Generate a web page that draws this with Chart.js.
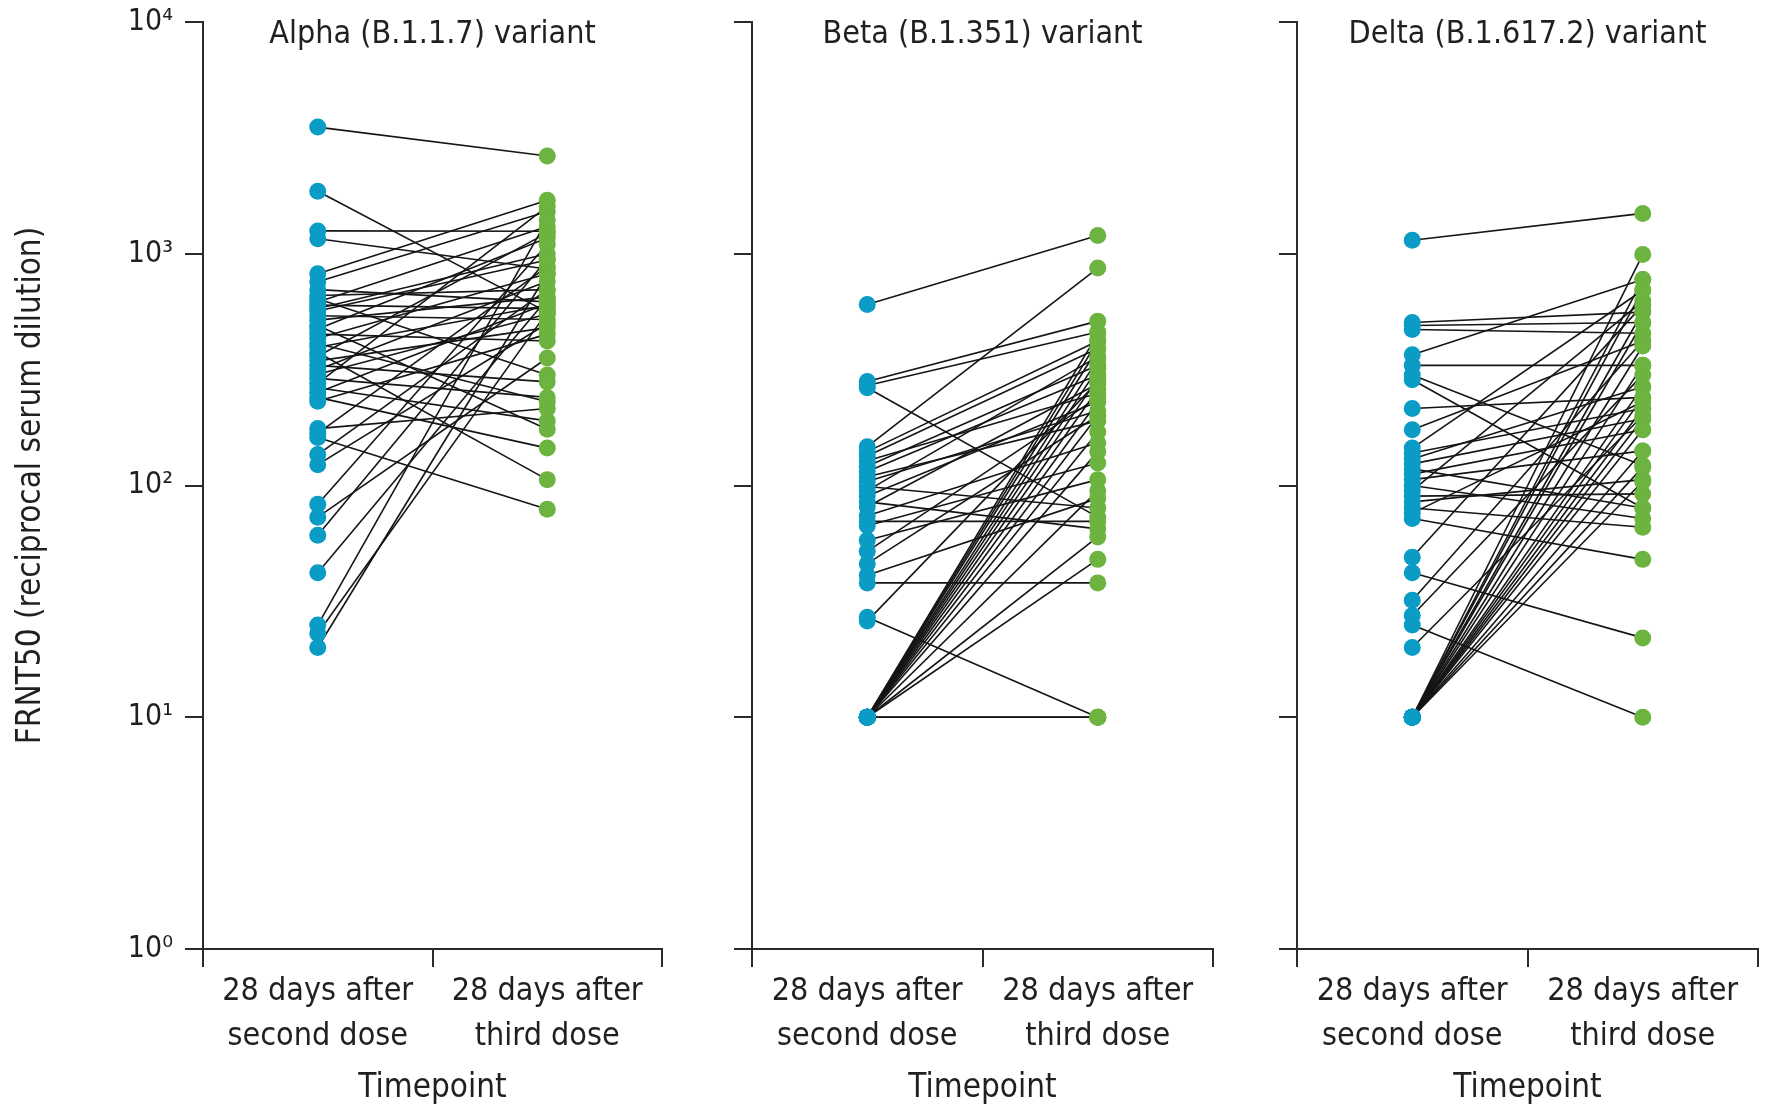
<!DOCTYPE html>
<html>
<head>
<meta charset="utf-8">
<script src="https://cdn.jsdelivr.net/npm/chart.js@4.4.0/dist/chart.umd.min.js"></script>
<style>
  html, body { margin: 0; padding: 0; background: #fff; }
  #wrap { position: relative; width: 1769px; height: 1110px; }
  .panel { position: absolute; top: 0; height: 1110px; }
</style>
</head>
<body>
<div id="wrap">
  <div class="panel" style="left:0;width:700px"><canvas id="alpha"></canvas></div>
  <div class="panel" style="left:700px;width:540px"><canvas id="beta"></canvas></div>
  <div class="panel" style="left:1240px;width:529px"><canvas id="delta"></canvas></div>
</div>
<script>
// Paired FRNT50 titres, 28 days after 2nd vs 3rd dose, per variant

const FONT = "'Liberation Sans Narrow', 'DejaVu Sans Condensed', sans-serif";
Chart.defaults.font.family = FONT;
Chart.defaults.color = '#231f20';

const TEXT = '#231f20';
const AXIS = '#2b2b2b';
const BLUE = '#0a9cc5';
const GREEN = '#6cb33f';

const timepoints = [['28 days after', 'second dose'], ['28 days after', 'third dose']];
const yTickValues = [1, 10, 100, 1000, 10000];
const yTickLabels = ['10⁰', '10¹', '10²', '10³', '10⁴'];
const yTitle = 'FRNT50 (reciprocal serum dilution)';
const xTitle = 'Timepoint';
const panelTitles = ['Alpha (B.1.1.7) variant', 'Beta (B.1.351) variant', 'Delta (B.1.617.2) variant'];

// same index = same participant
const alphaSecond = [3520, 1860, 1255, 1160, 820, 757, 700, 660, 640, 619, 600, 580, 566, 540, 517,
  490, 473, 450, 432, 410, 395, 375, 361, 345, 330, 316, 302, 290, 276, 264, 252, 240, 231,
  176, 168, 161, 136, 123, 83, 73, 61, 42, 25, 23, 20];
const alphaThird = [2640, 560, 1250, 860, 1700, 1520, 620, 700, 300, 1310, 580, 1000, 940, 520, 650,
  175, 1170, 420, 820, 230, 600, 106, 1230, 480, 280, 760, 550, 240, 1600, 190, 610, 145, 450,
  215, 880, 79, 700, 500, 1100, 355, 950, 640, 1400, 560, 820];

const betaSecond = [604, 281, 270, 264, 147, 140, 134, 128, 121, 115, 109, 104, 99, 95, 90, 85, 81,
  74, 70, 67, 58, 52, 46, 41, 38, 27, 26,
  10, 10, 10, 10, 10, 10, 10, 10, 10, 10, 10, 10, 10, 10, 10, 10, 10];
const betaThird = [1200, 512, 460, 73, 867, 420, 390, 250, 330, 300, 190, 210, 80, 360, 230, 65, 275,
  153, 70, 125, 106, 240, 200, 88, 38, 10, 280,
  10, 10, 10, 450, 420, 390, 350, 320, 290, 260, 230, 200, 170, 140, 95, 60, 48];

const deltaSecond = [1143, 505, 490, 471, 367, 330, 300, 286, 215, 174, 145, 138, 130, 124, 118, 112,
  106, 100, 95, 90, 85, 80, 76, 72, 49, 42, 32, 27.5, 25, 20,
  10, 10, 10, 10, 10, 10, 10, 10, 10, 10, 10, 10, 10, 10, 10];
const deltaThird = [1493, 560, 505, 454, 775, 330, 122, 80, 240, 420, 696, 215, 267, 194, 80, 174,
  141, 72, 625, 92, 106, 66, 230, 48, 600, 22, 420, 300, 10, 200,
  993, 775, 700, 562, 505, 400, 330, 267, 240, 215, 194, 174, 141, 104, 120];

// draws the variant name inside the top of the plot area
const panelTitle = {
  id: 'panelTitle',
  afterDraw(chart, args, opts) {
    const { ctx, chartArea } = chart;
    ctx.save();
    ctx.font = `${opts.size}px ${FONT}`;
    ctx.fillStyle = TEXT;
    ctx.textAlign = 'center';
    ctx.textBaseline = 'middle';
    ctx.fillText(opts.text, (chartArea.left + chartArea.right) / 2, chartArea.top + opts.offset);
    ctx.restore();
  }
};

function makePanel(canvasId, title, second, third, axisWidth, rightPad, showLabels) {
  const pairs = second.map((s, i) => ({
    data: [s, third[i]],
    borderColor: '#151515',
    borderWidth: 1.6,
    pointRadius: 0,
    tension: 0,
    order: 1,
  }));
  // x given as the label itself (same array reference) so the category scale finds it
  const dots = [
    { data: second.map(v => ({ x: timepoints[0], y: v })), showLine: false, pointRadius: 8.5,
      pointBackgroundColor: BLUE, pointBorderWidth: 0, order: 0 },
    { data: third.map(v => ({ x: timepoints[1], y: v })), showLine: false, pointRadius: 8.5,
      pointBackgroundColor: GREEN, pointBorderWidth: 0, order: 0 },
  ];

  return new Chart(document.getElementById(canvasId), {
    type: 'line',
    data: { labels: timepoints, datasets: [...pairs, ...dots] },
    plugins: [panelTitle],
    options: {
      responsive: true,
      maintainAspectRatio: false,
      animation: false,
      events: [],
      layout: { padding: { top: 22, right: rightPad, left: 0, bottom: 0 } },
      plugins: {
        legend: { display: false },
        tooltip: { enabled: false },
        panelTitle: { text: title, size: 32, offset: 13 },
      },
      scales: {
        x: {
          type: 'category',
          offset: true,
          grid: { offset: true, drawOnChartArea: false, tickLength: 18, color: AXIS, lineWidth: 2 },
          border: { color: AXIS, width: 2 },
          ticks: { font: { size: 32, lineHeight: 1.42 }, padding: 2, color: TEXT, maxRotation: 0, autoSkip: false },
          title: { display: true, text: xTitle, font: { size: 33 }, padding: { top: 0, bottom: 2 }, color: TEXT },
          afterFit: (s) => { s.height = 161; },
        },
        y: {
          type: 'logarithmic',
          min: 1,
          max: 10000,
          afterBuildTicks: (s) => { s.ticks = yTickValues.map(v => ({ value: v })); },
          grid: { drawOnChartArea: false, tickLength: 18, color: AXIS, lineWidth: 2 },
          border: { color: AXIS, width: 2 },
          ticks: {
            display: showLabels,
            callback: (v, i) => yTickLabels[i],
            font: { size: 30 },
            padding: 12,
            color: TEXT,
          },
          title: { display: showLabels, text: yTitle, font: { size: 33 }, padding: { top: 12 }, color: TEXT },
          // fixed width and no label overhang so all three plot areas line up
          afterFit: (s) => { s.width = axisWidth; s.paddingTop = 0; s.paddingBottom = 0; },
        },
      },
    },
  });
}

makePanel('alpha', panelTitles[0], alphaSecond, alphaThird, 203, 38, true);
makePanel('beta', panelTitles[1], betaSecond, betaThird, 52, 27, false);
makePanel('delta', panelTitles[2], deltaSecond, deltaThird, 57, 11, false);
</script>
</body>
</html>
